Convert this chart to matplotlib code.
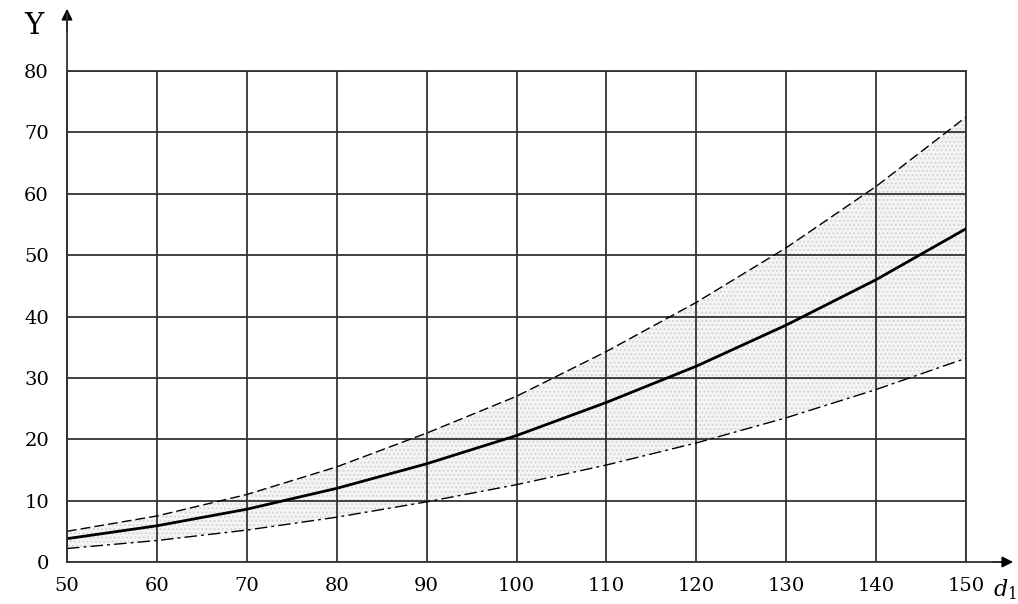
import matplotlib.pyplot as plt

# values
d = [50, 60, 70, 80, 90, 100, 110, 120, 130, 140, 150]
y_upper = [5.0, 7.5, 11.0, 15.5, 21.0, 27.0, 34.3, 42.3, 51.2, 61.2, 72.5]
y_mid = [3.8, 5.9, 8.6, 12.0, 16.0, 20.6, 26.0, 31.9, 38.6, 46.0, 54.3]
y_lower = [2.2, 3.5, 5.2, 7.3, 9.8, 12.6, 15.8, 19.4, 23.5, 28.1, 33.2]
x_ticks = [50, 60, 70, 80, 90, 100, 110, 120, 130, 140, 150]
y_ticks = [0, 10, 20, 30, 40, 50, 60, 70, 80]

plt.rcParams['font.family'] = ['DejaVu Serif']

fig = plt.figure(figsize=(10.18, 6.04), dpi=100)
ax = fig.add_axes([67 / 1018, 42 / 604, 899 / 1018, 491 / 604])

# shaded band with fine dots
ax.fill_between(d, y_lower, y_upper, facecolor='#f5f5f5', edgecolor='#d6d6d6',
                hatch='....', linewidth=0, zorder=1)

ax.plot(d, y_upper, color='black', lw=1.0, dashes=(7, 3), zorder=3)
ax.plot(d, y_mid, color='black', lw=2.0, zorder=3)
ax.plot(d, y_lower, color='black', lw=1.0, dashes=(9, 3, 2, 3), zorder=3)

ax.set_xlim(50, 150)
ax.set_ylim(0, 80)
ax.set_xticks(x_ticks)
ax.set_yticks(y_ticks)
ax.tick_params(length=0, labelsize=14)
ax.tick_params(axis='x', pad=11)
ax.tick_params(axis='y', pad=13)
ax.grid(True, color='#333333', lw=1.3)
ax.set_axisbelow(False)
for s in ['top', 'right', 'left', 'bottom']:
    ax.spines[s].set_color('#333333')
    ax.spines[s].set_linewidth(1.3)

# axis arrows
fig.add_artist(plt.Line2D([67 / 1018, 67 / 1018], [42 / 604, 590 / 604],
                          color='#333333', lw=1.3))
ax.annotate('', xy=(67 / 1018, 598 / 604), xycoords='figure fraction',
            xytext=(67 / 1018, 570 / 604), textcoords='figure fraction',
            arrowprops=dict(arrowstyle='-|>', color='black', lw=1.3,
                            mutation_scale=16))
fig.add_artist(plt.Line2D([967 / 1018, 1000 / 1018], [42 / 604, 42 / 604],
                          color='#333333', lw=1.3))
ax.annotate('', xy=(1016 / 1018, 42 / 604), xycoords='figure fraction',
            xytext=(990 / 1018, 42 / 604), textcoords='figure fraction',
            arrowprops=dict(arrowstyle='-|>', color='black', lw=1.3,
                            mutation_scale=16))

fig.text(34 / 1018, 578 / 604, 'Y', fontsize=21, ha='center', va='center')
fig.text(993 / 1018, 14 / 604, r'$d_1$', fontsize=16, ha='left', va='center',
         math_fontfamily='dejavuserif')

fig.savefig('out.png', dpi=100)
